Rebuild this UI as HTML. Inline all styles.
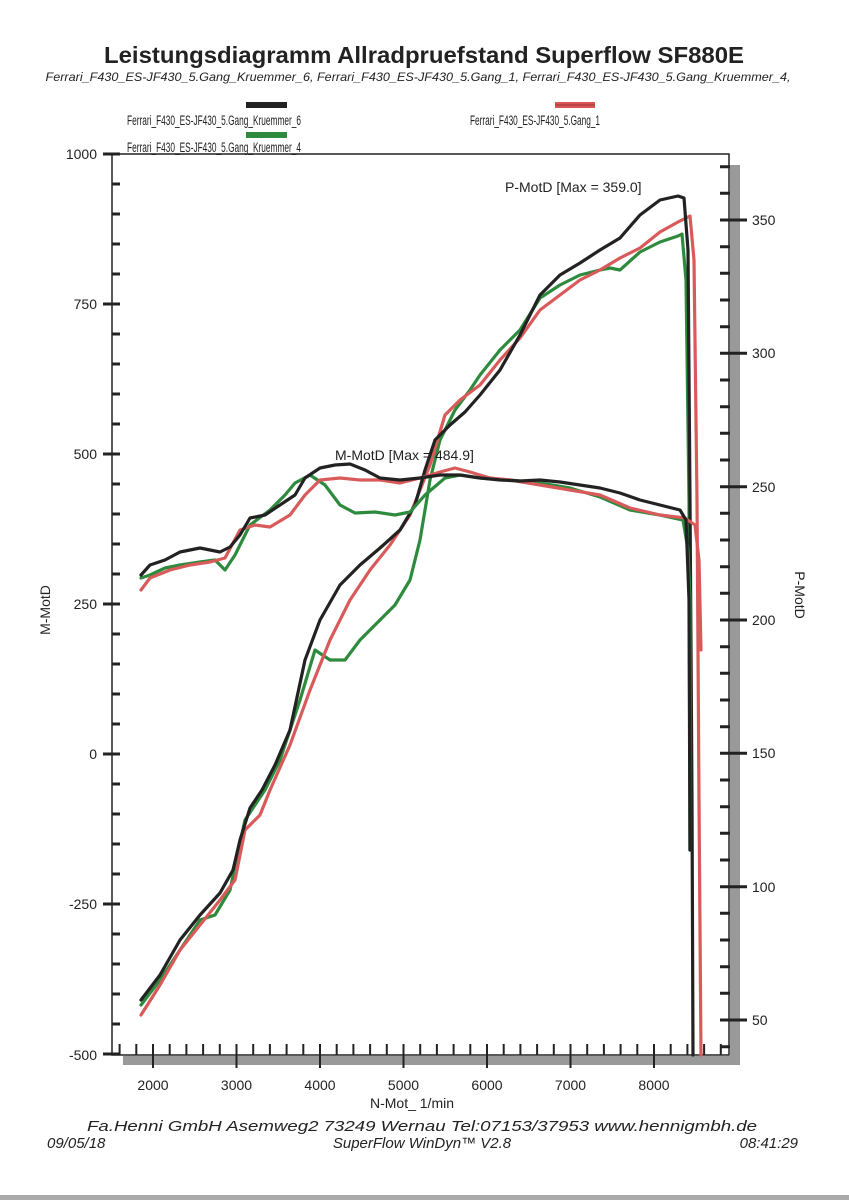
<!DOCTYPE html>
<html><head><meta charset="utf-8"><style>
html,body{margin:0;padding:0;background:#fff}
svg{display:block}
text{font-family:"Liberation Sans",Arial,sans-serif;fill:#222}
</style></head><body>
<svg width="849" height="1200" viewBox="0 0 849 1200">
<rect width="849" height="1200" fill="#fff"/>
<text x="424" y="63" font-size="23" font-weight="bold" text-anchor="middle" textLength="640" lengthAdjust="spacingAndGlyphs">Leistungsdiagramm Allradpruefstand Superflow SF880E</text>
<text x="418" y="81" font-size="12" font-style="italic" text-anchor="middle" textLength="745" lengthAdjust="spacingAndGlyphs">Ferrari_F430_ES-JF430_5.Gang_Kruemmer_6, Ferrari_F430_ES-JF430_5.Gang_1, Ferrari_F430_ES-JF430_5.Gang_Kruemmer_4,</text>
<!-- legend -->
<rect x="246" y="102" width="41" height="6" fill="#222"/>
<text x="127" y="125" font-size="13.5" textLength="174" lengthAdjust="spacingAndGlyphs">Ferrari_F430_ES-JF430_5.Gang_Kruemmer_6</text>
<rect x="555" y="102" width="40" height="6" fill="#d55"/>
<line x1="555" y1="105" x2="595" y2="105" stroke="#933" stroke-width="1"/>
<text x="470" y="125" font-size="13.5" textLength="130" lengthAdjust="spacingAndGlyphs">Ferrari_F430_ES-JF430_5.Gang_1</text>
<rect x="246" y="132" width="41" height="6" fill="#2e8b3e"/>
<text x="127" y="152" font-size="13.5" textLength="174" lengthAdjust="spacingAndGlyphs">Ferrari_F430_ES-JF430_5.Gang_Kruemmer_4</text>
<!-- shadows -->
<rect x="730" y="165" width="10" height="900" fill="#999"/>
<rect x="123" y="1056" width="617" height="9" fill="#999"/>
<!-- frame -->
<path d="M112 154 H729 V1055 H112 Z" fill="none" stroke="#222" stroke-width="1.5"/>
<!-- left ticks -->
<path stroke="#222" stroke-width="3" fill="none" d="M112 184h8M112 214h8M112 244h8M112 274h8M112 334h8M112 364h8M112 394h8M112 424h8M112 484h8M112 514h8M112 544h8M112 574h8M112 634h8M112 664h8M112 694h8M112 724h8M112 784h8M112 814h8M112 844h8M112 874h8M112 934h8M112 964h8M112 994h8M112 1024h8M103 154h17M103 304h17M103 454h17M103 604h17M103 754h17M103 904h17M103 1054h17"/>
<!-- bottom ticks -->
<path stroke="#222" stroke-width="2" fill="none" d="M119.6 1044v11M136.3 1044v11M169.7 1044v11M186.4 1044v11M203.1 1044v11M219.8 1044v11M253.2 1044v11M269.9 1044v11M286.6 1044v11M303.3 1044v11M336.7 1044v11M353.4 1044v11M370.1 1044v11M386.8 1044v11M420.2 1044v11M436.9 1044v11M453.6 1044v11M470.3 1044v11M503.7 1044v11M520.4 1044v11M537.1 1044v11M553.8 1044v11M587.2 1044v11M603.9 1044v11M620.6 1044v11M637.3 1044v11M670.7 1044v11M687.4 1044v11M704.1 1044v11M720.8 1044v11M153 1044v24M236.5 1044v24M320 1044v24M403.5 1044v24M487 1044v24M570.5 1044v24M654 1044v24"/>
<!-- right ticks -->
<path stroke="#222" stroke-width="3" fill="none" d="M720 166.7h10M720 193.3h10M720 246.7h10M720 273.3h10M720 300h10M720 326.7h10M720 380h10M720 406.7h10M720 433.3h10M720 460h10M720 513.3h10M720 540h10M720 566.7h10M720 593.3h10M720 646.7h10M720 673.3h10M720 700h10M720 726.7h10M720 780h10M720 806.7h10M720 833.3h10M720 860h10M720 913.3h10M720 940h10M720 966.7h10M720 993.3h10M720 1046.7h10M720 220h27M720 353.3h27M720 486.7h27M720 620h27M720 753.3h27M720 886.7h27M720 1020h27"/>
<g font-size="14" text-anchor="end">
<text x="97" y="159">1000</text><text x="97" y="309">750</text><text x="97" y="459">500</text><text x="97" y="609">250</text><text x="97" y="759">0</text><text x="97" y="909">-250</text><text x="97" y="1060">-500</text>
</g>
<g font-size="14">
<text x="752" y="225">350</text><text x="752" y="358">300</text><text x="752" y="492">250</text><text x="752" y="625">200</text><text x="752" y="758">150</text><text x="752" y="892">100</text><text x="752" y="1025">50</text>
</g>
<g font-size="14" text-anchor="middle">
<text x="153" y="1090">2000</text><text x="236.5" y="1090">3000</text><text x="320" y="1090">4000</text><text x="403.5" y="1090">5000</text><text x="487" y="1090">6000</text><text x="570.5" y="1090">7000</text><text x="654" y="1090">8000</text>
<text x="412" y="1108">N-Mot_ 1/min</text>
</g>
<text transform="translate(50,610) rotate(-90)" font-size="14" text-anchor="middle">M-MotD</text>
<text transform="translate(795,595) rotate(90)" font-size="14" text-anchor="middle">P-MotD</text>
<g fill="none" stroke-width="3.2" stroke-linejoin="round" stroke-linecap="round">
<polyline stroke="#2e8b3e" points="141,1005 160,980 180,950 200,920 215,915 230,890 245,820 265,790 280,760 300,700 315,650 330,660 345,660 360,640 380,620 395,605 410,580 420,540 430,480 440,440 455,410 470,390 480,375 500,350 520,330 540,298 560,285 580,275 600,270 610,268 620,270 640,252 660,242 678,236 682,234 686,280 689,500 690,850"/>
<polyline stroke="#d95a5a" points="141,1015 160,985 180,950 200,925 220,900 235,880 245,830 260,815 270,790 290,745 310,690 330,640 350,600 370,570 390,545 410,515 430,465 445,415 460,400 480,385 500,360 520,338 540,310 560,295 580,280 600,270 620,258 640,248 660,232 678,222 690,216 694,260 697,500 699,800 701,1055"/>
<polyline stroke="#222" points="141,1000 160,975 180,940 200,915 220,893 233,870 240,840 250,808 262,790 275,765 290,730 305,660 320,620 340,585 360,565 380,548 400,530 415,505 425,470 435,440 450,425 465,412 480,395 500,370 520,335 540,295 560,275 580,263 600,250 620,238 640,215 660,200 678,196 684,198 688,250 690,500 692,800 693,1055"/>
<polyline stroke="#2e8b3e" points="141,578 150,575 165,568 180,565 200,562 215,560 225,570 235,555 250,525 270,510 285,495 295,483 310,475 325,485 340,505 355,513 375,512 395,515 410,512 425,495 445,478 460,475 480,478 510,480 540,483 570,488 600,497 630,510 660,515 683,520 688,550 690,600 690,850"/>
<polyline stroke="#d95a5a" points="141,590 150,578 170,570 190,565 210,562 225,558 240,530 255,525 270,527 290,515 305,495 320,480 340,478 360,480 380,480 400,483 420,478 440,472 455,468 470,472 490,478 510,480 540,485 570,490 600,495 630,508 660,515 685,518 695,525 699,560 701,650"/>
<polyline stroke="#222" points="141,575 150,565 165,560 180,552 200,548 220,552 230,547 240,535 250,518 265,515 280,505 295,495 305,478 320,468 335,465 350,464 365,470 380,478 400,480 420,478 440,475 460,475 480,478 500,480 520,481 540,480 560,482 580,485 600,488 620,493 640,500 660,505 680,510 686,520 689,600 690,850"/>
</g>
<text x="505" y="192" font-size="14">P-MotD [Max = 359.0]</text>
<text x="335" y="460" font-size="14">M-MotD [Max = 484.9]</text>
<g font-size="15" font-style="italic">
<text x="87" y="1131" textLength="670" lengthAdjust="spacingAndGlyphs">Fa.Henni GmbH   Asemweg2   73249 Wernau   Tel:07153/37953   www.hennigmbh.de</text>
<text x="47" y="1148">09/05/18</text>
<text x="422" y="1148" text-anchor="middle">SuperFlow WinDyn™ V2.8</text>
<text x="798" y="1148" text-anchor="end">08:41:29</text>
</g>
<rect x="0" y="1195" width="849" height="5" fill="#aaa"/>
</svg>
</body></html>
